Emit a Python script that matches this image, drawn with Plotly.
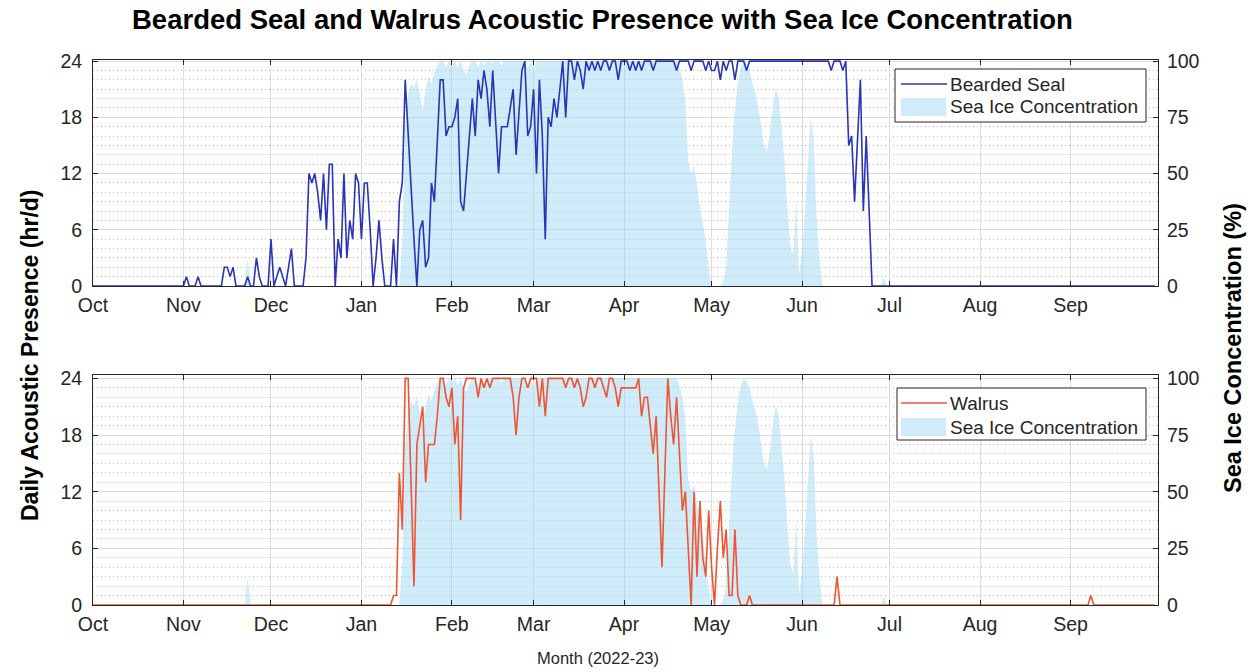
import plotly.graph_objects as go
import pandas as pd

# ---------------- data (daily, 2022-10-01 .. 2023-09-30) ----------------
dates = pd.date_range("2022-10-01", "2023-09-30", freq="D")

month_ticks = pd.date_range("2022-10-01", "2023-09-01", freq="MS")
month_labels = ["Oct", "Nov", "Dec", "Jan", "Feb", "Mar", "Apr", "May", "Jun", "Jul", "Aug", "Sep"]

hour_ticks = [0, 6, 12, 18, 24]
ice_ticks = [0, 25, 50, 75, 100]

# Bearded seal daily acoustic presence (hr/d), one row per month
bearded_seal = (
    [0] * 31 +  # Oct
    [0, 1, 0, 0, 0, 1, 0, 0, 0, 0, 0, 0, 0, 0, 2, 2, 1, 2, 0, 0, 0, 0, 1, 0, 0, 3, 1, 0, 0, 0] +  # Nov
    [5, 0, 1, 2, 1, 0, 2, 4, 0, 0, 0, 0, 3, 12, 11, 12, 10, 7, 12, 6, 13, 13, 0, 5, 3, 12, 3, 7, 5, 12, 11] +  # Dec
    [5, 11, 11, 6, 0, 3, 7, 3, 0, 0, 0, 5, 0, 9, 11, 22, 16, 11, 5, 0, 6, 7, 2, 3, 11, 9, 16, 22, 22, 16, 17] +  # Jan
    [17, 18, 20, 9, 8, 12, 16, 20, 16, 22, 20, 23, 21, 17, 23, 18, 12, 17, 17, 17, 19, 21, 14, 19, 23, 24, 16, 17] +  # Feb
    [21, 12, 22, 16, 5, 18, 17, 20, 18, 21, 24, 18, 24, 24, 22, 24, 23, 21, 24, 23, 24, 23, 24, 23, 24, 24, 23, 24, 24, 22, 24] +  # Mar
    [24, 24, 23, 24, 23, 24, 23, 24, 24, 24, 23, 24, 24, 24, 24, 24, 24, 24, 23, 24, 24, 24, 24, 23, 24, 24, 24, 24, 23, 24] +  # Apr
    [23, 23, 24, 22, 24, 23, 24, 24, 22, 24, 24, 24, 23, 24, 24, 24, 24, 24, 24, 24, 24, 24, 24, 24, 24, 24, 24, 24, 24, 24, 24] +  # May
    [24, 24, 24, 24, 24, 24, 24, 24, 24, 24, 23, 24, 24, 24, 23, 24, 15, 16, 9, 15, 22, 8, 16, 8, 0, 0, 0, 0, 0, 0] +  # Jun
    [0] * 31 +  # Jul
    [0] * 31 +  # Aug
    [0] * 30    # Sep
)

# Walrus daily acoustic presence (hr/d)
walrus = (
    [0] * 31 +  # Oct
    [0] * 30 +  # Nov
    [0] * 31 +  # Dec
    [0, 0, 0, 0, 0, 0, 0, 0, 0, 0, 0, 1, 1, 14, 8, 24, 24, 13, 2, 17, 19, 21, 13, 17, 17, 17, 20, 24, 24, 22, 21] +  # Jan
    [23, 17, 20, 9, 23, 24, 24, 24, 24, 22, 24, 23, 24, 23, 24, 24, 24, 24, 24, 24, 24, 22, 18, 22, 24, 24, 23, 24] +  # Feb
    [24, 24, 21, 24, 20, 24, 24, 24, 24, 24, 24, 23, 24, 24, 23, 24, 23, 21, 22, 24, 24, 23, 24, 24, 23, 22, 24, 24, 23, 21, 23] +  # Mar
    [23, 23, 23, 23, 23, 24, 20, 22, 22, 19, 16, 20, 12, 4, 14, 24, 20, 17, 22, 16, 10, 12, 6, 0, 12, 3, 11, 5, 3, 10] +  # Apr
    [4, 0, 6, 11, 5, 8, 1, 1, 8, 1, 0, 0, 0, 1, 0, 0, 0, 0, 0, 0, 0, 0, 0, 0, 0, 0, 0, 0, 0, 0, 0] +  # May
    [0, 0, 0, 0, 0, 0, 0, 0, 0, 0, 0, 0, 3, 0, 0, 0, 0, 0, 0, 0, 0, 0, 0, 0, 0, 0, 0, 0, 0, 0] +  # Jun
    [0] * 31 +  # Jul
    [0] * 31 +  # Aug
    [0, 0, 0, 0, 0, 0, 0, 1, 0, 0, 0, 0, 0, 0, 0, 0, 0, 0, 0, 0, 0, 0, 0, 0, 0, 0, 0, 0, 0, 0]  # Sep
)

# Sea ice concentration (%)
sea_ice = (
    [0] * 31 +  # Oct
    [0, 0, 0, 0, 0, 0, 0, 0, 0, 0, 0, 0, 0, 0, 0, 0, 0, 0, 0, 0, 0, 0, 12, 0, 0, 0, 0, 0, 0, 0] +  # Nov
    [0] * 31 +  # Dec
    [0, 0, 0, 0, 0, 0, 0, 0, 0, 0, 0, 0, 0, 0, 20, 70, 85, 90, 88, 92, 85, 78, 88, 93, 90, 95, 98, 100, 100, 97, 100] +  # Jan
    [98, 100, 97, 100, 96, 94, 98, 100, 100, 97, 100, 98, 100, 100, 99, 100, 100, 98, 100, 100, 100, 100, 100, 100, 100, 100, 97, 100] +  # Feb
    [96, 100, 100, 100, 100, 100, 100, 100, 100, 100, 100, 100, 100, 100, 100, 100, 100, 100, 100, 100,
     100, 100, 100, 100, 100, 100, 100, 100, 100, 100, 100] +  # Mar
    [100, 100, 100, 100, 100, 100, 100, 100, 100, 100, 100, 100, 100, 100, 100, 100, 100, 100,
     100, 97, 92, 82, 55, 50, 53, 45, 35, 28, 20, 8] +  # Apr
    [0, 0, 0, 0, 2, 8, 35, 60, 78, 90, 97, 100, 99, 96, 90, 86, 80, 70, 62, 60, 68, 80, 88, 84, 70, 55, 35, 18, 14, 38, 5] +  # May
    [15, 33, 55, 75, 65, 30, 12, 0, 0, 0, 0, 0, 0, 0, 0, 0, 0, 0, 0, 0, 0, 0, 0, 0, 0, 0, 0, 0, 4, 0] +  # Jun
    [0] * 31 +  # Jul
    [0] * 31 +  # Aug
    [0] * 30    # Sep
)

# ---------------- styling ----------------
FONT = "Liberation Sans, Arial, Helvetica, sans-serif"
AX = "#262626"
ICE_FILL = "rgba(150,212,245,0.45)"
SEAL_C = "#2a35b5"
WALRUS_C = "#ee5533"
GRID = "#dcdcdc"
MINOR = "#bdbdbd"

fig = go.Figure()

# top panel
fig.add_trace(go.Scatter(x=dates, y=sea_ice, xaxis="x", yaxis="y", mode="lines",
                         line=dict(width=0, color=ICE_FILL), fill="tozeroy", fillcolor=ICE_FILL,
                         name="Sea Ice Concentration", showlegend=False))
fig.add_trace(go.Scatter(x=dates, y=bearded_seal, xaxis="x", yaxis="y2", mode="lines",
                         line=dict(width=1.6, color=SEAL_C), name="Bearded Seal", showlegend=False))
# bottom panel
fig.add_trace(go.Scatter(x=dates, y=sea_ice, xaxis="x2", yaxis="y3", mode="lines",
                         line=dict(width=0, color=ICE_FILL), fill="tozeroy", fillcolor=ICE_FILL,
                         name="Sea Ice Concentration", showlegend=False))
fig.add_trace(go.Scatter(x=dates, y=walrus, xaxis="x2", yaxis="y4", mode="lines",
                         line=dict(width=1.6, color=WALRUS_C), name="Walrus", showlegend=False))

W, H = 1251, 672
L, R, T, B = 93, 93, 60, 67
ph = H - T - B
fw = W - L - R
top_dom = [(605 - 286) / ph, 1.0]
bot_dom = [0.0, (605 - 375) / ph]


def px(xp):
    return (xp - L) / fw


def py(yp):
    return (605 - yp) / ph


tickfont = dict(family=FONT, size=19.5, color=AX)

xcommon = dict(type="date", range=["2022-10-01", "2023-10-01"], tickvals=month_ticks, ticktext=month_labels,
               ticks="inside", ticklen=5, tickcolor=AX, showline=True, linecolor=AX, linewidth=1,
               mirror="ticks", showgrid=True, gridcolor=GRID, gridwidth=1, tickfont=tickfont,
               zeroline=False, ticklabelstandoff=2)


def ice_axis(dom, anchor, top):
    return dict(domain=dom, anchor=anchor, side="right", range=[0, top], tickvals=ice_ticks,
                ticks="inside", ticklen=5, tickcolor=AX, showline=True, linecolor=AX, linewidth=1,
                showgrid=True, gridcolor=GRID, zeroline=False, tickfont=tickfont, ticklabelstandoff=4,
                minor=dict(tick0=0, dtick=100 / 24, showgrid=True, griddash="1px,3px", gridcolor=MINOR,
                           gridwidth=1, ticks=""))


def hour_axis(over, anchor, top):
    return dict(overlaying=over, anchor=anchor, side="left", range=[0, top], tickvals=hour_ticks,
                ticks="inside", ticklen=5, tickcolor=AX, showline=True, linecolor=AX, linewidth=1,
                showgrid=False, zeroline=False, tickfont=tickfont, ticklabelstandoff=6)


fig.update_layout(
    width=W, height=H, margin=dict(l=L, r=R, t=T, b=B),
    paper_bgcolor="white", plot_bgcolor="white",
    font=dict(family=FONT, color=AX),
    xaxis=dict(domain=[0, 1], anchor="y", **xcommon),
    xaxis2=dict(domain=[0, 1], anchor="y3", **xcommon),
    yaxis=ice_axis(top_dom, "x", 100.5),
    yaxis2=hour_axis("y", "x", 24.12),
    yaxis3=ice_axis(bot_dom, "x2", 101.5),
    yaxis4=hour_axis("y3", "x2", 24.36),
    showlegend=False,
)

# ---- legends drawn as boxes (MATLAB style) ----
legends = [
    # (box x0, x1, y0, y1, line y, ice y0, ice y1, line colour, label)
    (895, 1146, 69, 122, 84, 98, 116, SEAL_C, "Bearded Seal"),
    (897, 1146, 388, 440, 403, 418, 436, WALRUS_C, "Walrus"),
]
for bx0, bx1, by0, by1, ly, iy0, iy1, lc, lab in legends:
    fig.add_shape(type="rect", xref="paper", yref="paper", x0=px(bx0), x1=px(bx1), y0=py(by1), y1=py(by0),
                  line=dict(color=AX, width=1), fillcolor="white", layer="above")
    fig.add_shape(type="line", xref="paper", yref="paper", x0=px(901), x1=px(947), y0=py(ly), y1=py(ly),
                  line=dict(color=lc, width=1.6), layer="above")
    fig.add_shape(type="rect", xref="paper", yref="paper", x0=px(901), x1=px(946), y0=py(iy1), y1=py(iy0),
                  line=dict(width=0), fillcolor=ICE_FILL, layer="above")
    fig.add_annotation(text=lab, xref="paper", yref="paper", x=px(948), y=py(ly), showarrow=False,
                       xanchor="left", yanchor="middle", font=dict(family=FONT, size=19, color=AX))
    fig.add_annotation(text="Sea Ice Concentration", xref="paper", yref="paper", x=px(948),
                       y=py((iy0 + iy1) / 2), showarrow=False, xanchor="left", yanchor="middle",
                       font=dict(family=FONT, size=19, color=AX))

fig.add_annotation(text="<b>Bearded Seal and Walrus Acoustic Presence with Sea Ice Concentration</b>",
                   xref="paper", yref="paper", x=px(602), y=py(19),
                   showarrow=False, font=dict(family=FONT, size=27.5, color="black"),
                   xanchor="center", yanchor="middle")
fig.add_annotation(text="<b>Daily Acoustic Presence (hr/d)</b>", xref="paper", yref="paper",
                   x=px(30), y=py(356), textangle=-90, showarrow=False,
                   font=dict(family=FONT, size=23, color="black"), xanchor="center", yanchor="middle")
fig.add_annotation(text="<b>Sea Ice Concentration (%)</b>", xref="paper", yref="paper",
                   x=px(1233), y=py(348), textangle=-90, showarrow=False,
                   font=dict(family=FONT, size=23.5, color="black"), xanchor="center", yanchor="middle")
fig.add_annotation(text="Month (2022-23)", xref="paper", yref="paper",
                   x=px(598), y=py(658), showarrow=False,
                   font=dict(family=FONT, size=16.5, color=AX), xanchor="center", yanchor="middle")

fig.write_html("out.html", config={"displayModeBar": False},
               post_script="document.body.style.margin='0px';document.body.style.overflow='hidden';")
